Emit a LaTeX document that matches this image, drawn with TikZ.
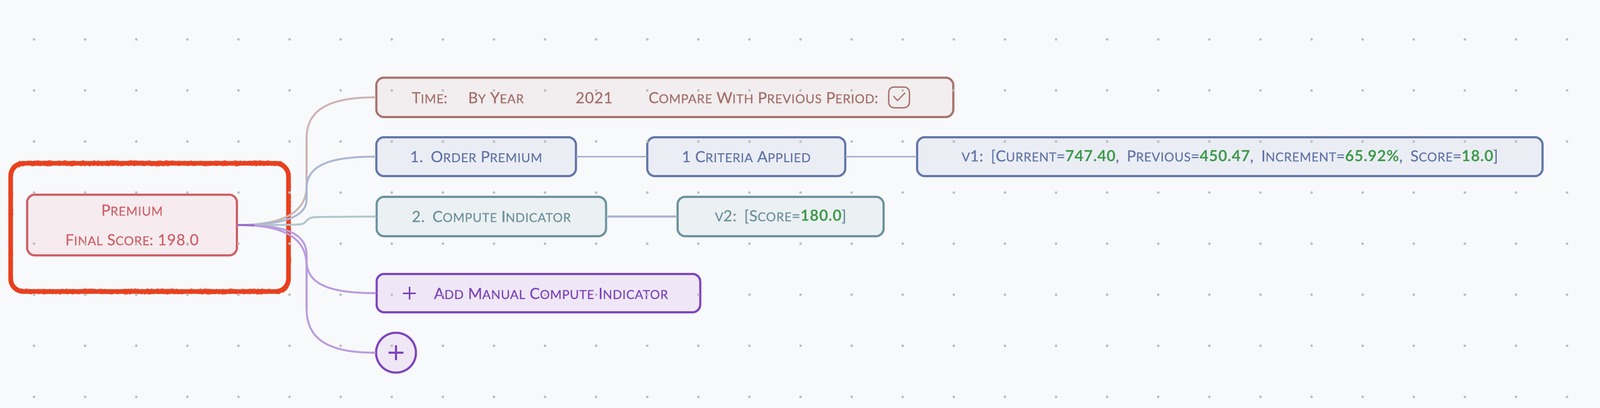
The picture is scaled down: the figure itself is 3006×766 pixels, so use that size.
\documentclass[tikz,border=0pt]{standalone}
\usepackage{fontspec}
\setmainfont{Lato}[LetterSpace=2.8, UprightFeatures={FakeBold=0.4}]
\usetikzlibrary{decorations.pathmorphing,calc}
\definecolor{bgc}{HTML}{F8F9FB}
\definecolor{dotc}{HTML}{BFBFBF}
\definecolor{scrib}{HTML}{E8401E}
\definecolor{premB}{HTML}{CF5F67}
\definecolor{premF}{HTML}{F6EBEE}
\definecolor{timeB}{HTML}{A8756F}
\definecolor{timeT}{HTML}{A36F69}
\definecolor{timeF}{HTML}{F2EDEE}
\definecolor{blueB}{HTML}{6377A9}
\definecolor{blueT}{HTML}{6174A6}
\definecolor{blueF}{HTML}{EBEDF5}
\definecolor{tealB}{HTML}{6A939F}
\definecolor{tealT}{HTML}{6B909C}
\definecolor{tealF}{HTML}{EBF0F2}
\definecolor{purB}{HTML}{7D45BD}
\definecolor{purT}{HTML}{7B43BB}
\definecolor{purF}{HTML}{EFE7F6}
\definecolor{grn}{HTML}{3F9B4C}
\definecolor{cPink}{HTML}{CDB5B4}
\definecolor{cBlue}{HTML}{AAB8D4}
\definecolor{cTeal}{HTML}{B0C7CC}
\definecolor{cPur}{HTML}{BB9CDF}
\definecolor{cHor}{HTML}{AAB4D3}
\newcommand\mainf{\fontsize{14.45pt}{27.8pt}\selectfont}
\newcommand\SCa[1]{{\fontsize{11.65pt}{27.8pt}\selectfont #1}}
\newcommand\gnum[1]{{\color{grn}\bfseries #1}}
\newcommand\scribpath{(44,307) -- (518,307) arc[start angle=-90, end angle=0, radius=24]
  -- (542,524) arc[start angle=0, end angle=90, radius=24]
  -- (44,548) arc[start angle=90, end angle=180, radius=24]
  -- (20,331) arc[start angle=180, end angle=270, radius=24] -- cycle}
\begin{document}
\begin{tikzpicture}[x=0.5pt,y=-0.5pt,
  box/.style={draw, line width=2pt, rounded corners=7pt, inner sep=0pt, align=center, font=\mainf},
  premstyle/.style={box, draw=premB, fill=premF, text=premB},
  timestyle/.style={box, draw=timeB, fill=timeF, text=timeT},
  bluestyle/.style={box, draw=blueB, fill=blueF, text=blueT},
  tealstyle/.style={box, draw=tealB, fill=tealF, text=tealT},
  purstyle/.style={box, draw=purB, fill=purF, text=purT},
  lbl/.style={inner sep=0pt, font=\mainf, anchor=base west},
  con/.style={line width=1.8pt, line cap=round},
  scribsolid/.style={draw=scrib, line width=4.4pt, line join=round},
  scribrough/.style={draw=scrib, line width=1.2pt, line join=round, opacity=0.7,
    decorate, decoration={random steps, segment length=1.4pt, amplitude=1.1pt}},
  gdot/.style={fill=dotc}
]
\fill[bgc] (0,0) rectangle (3006,766);
\useasboundingbox (0,0) rectangle (3006,766);

% highlight scribble
\draw[scribsolid] \scribpath;
\begin{scope}[shift={(0,-3)}]\draw[scribrough] \scribpath;\end{scope}
\begin{scope}[shift={(2,3)}]\draw[scribrough] \scribpath;\end{scope}

% nodes
\node[premstyle, minimum width=197pt, minimum height=57pt] (premium) at (248,423)
  {P\SCa{REMIUM}\\F\SCa{INAL} S\SCa{CORE}: 198.0};

\node[timestyle, minimum width=542pt, minimum height=37pt] (time) at (1249,183) {};
\node[lbl, text=timeT] (tTime) at (773,194) {T\SCa{IME}:};
\node[lbl, text=timeT] (tYear) at (879,194) {B\SCa{Y} Y\SCa{EAR}};
\node[lbl, text=timeT] (tNum) at (1081,194) {2021};
\node[lbl, text=timeT] (tComp) at (1218,194) {C\SCa{OMPARE} W\SCa{ITH} P\SCa{REVIOUS} P\SCa{ERIOD}:};
\node[draw=timeB, line width=1.25pt, rounded corners=5pt, minimum size=19.5pt, inner sep=0pt] (chk) at (1689,183) {};
\draw[timeB, line width=1.1pt, line cap=round, line join=round] ($(chk.center)+(-10,-2)$) -- ($(chk.center)+(-3,6)$) -- ($(chk.center)+(11,-8)$);

\node[bluestyle, minimum width=187.5pt, minimum height=36.5pt] (order) at (894.5,294.5)
  {1.\enspace O\SCa{RDER} P\SCa{REMIUM}};
\node[bluestyle, minimum width=186pt, minimum height=36.5pt] (criteria) at (1402,294.5)
  {1 C\SCa{RITERIA} A\SCa{PPLIED}};
\node[bluestyle, minimum width=587.5pt, minimum height=36.5pt] (vone) at (2310.5,294.5)
  {\SCa{V}1:\enspace[C\SCa{URRENT}=\gnum{747.40},\enspace P\SCa{REVIOUS}=\gnum{450.47},\enspace I\SCa{NCREMENT}=\gnum{65.92\%},\enspace S\SCa{CORE}=\gnum{18.0}]};

\node[tealstyle, minimum width=215.5pt, minimum height=37pt] (compute) at (923,407)
  {2.\enspace C\SCa{OMPUTE} I\SCa{NDICATOR}};
\node[tealstyle, minimum width=193.5pt, minimum height=37pt] (vtwo) at (1466.5,407)
  {\SCa{V}2:\enspace[S\SCa{CORE}=\gnum{180.0}]};

\node[purstyle, minimum width=304pt, minimum height=36pt] (add) at (1011.5,551) {};
\node[lbl, text=purT] (addT) at (815,562) {A\SCa{DD} M\SCa{ANUAL} C\SCa{OMPUTE} I\SCa{NDICATOR}};
\draw[purB, line width=1.5pt] (757,551) -- (781,551) (769,539) -- (769,563);

\node[draw=purB, fill=purF, line width=2pt, circle, minimum size=37.5pt, inner sep=0pt] (plus) at (744,663) {};
\draw[purB, line width=2pt] ($(plus.center)+(-14,0)$) -- ($(plus.center)+(14,0)$)
  ($(plus.center)+(0,-14)$) -- ($(plus.center)+(0,14)$);

% connectors
\draw[con, cPink] (premium.east) .. controls (530,423) and (576,400) .. (576,350) -- (576,260)
  .. controls (576,205) and (620,183) .. (time.west);
\draw[con, cBlue] (premium.east) .. controls (525,423) and (576,410) .. (576,375) -- (576,355)
  .. controls (576,310) and (620,294.5) .. (order.west);
\draw[con, cTeal] (premium.east) .. controls (520,423) and (560,423) .. (568,421)
  .. controls (576,419) and (574,409) .. (594,408) -- (compute.west);
\draw[con, cPur] (premium.east) .. controls (530,423) and (576,445) .. (576,500) -- (576,580)
  .. controls (576,640) and (620,663) .. (plus.west);
\draw[con, cPur] (premium.east) .. controls (530,423) and (576,435) .. (576,480) -- (576,490)
  .. controls (576,535) and (620,551) .. (add.west);
\draw[con, purB!80] (premium.east) -- ++(30,0.5);

\draw[con, cHor] (order.east) -- (criteria.west);
\draw[con, cHor] (criteria.east) -- (vone.west);
\draw[con, cHor] (compute.east) -- (vtwo.west);

% grid dots
\foreach \i in {0,...,30}{
  \foreach \j in {0,...,7}{
    \fill[gdot] (64+96*\i, 74+96*\j) circle (1.25pt);
  }
}
\end{tikzpicture}
\end{document}
